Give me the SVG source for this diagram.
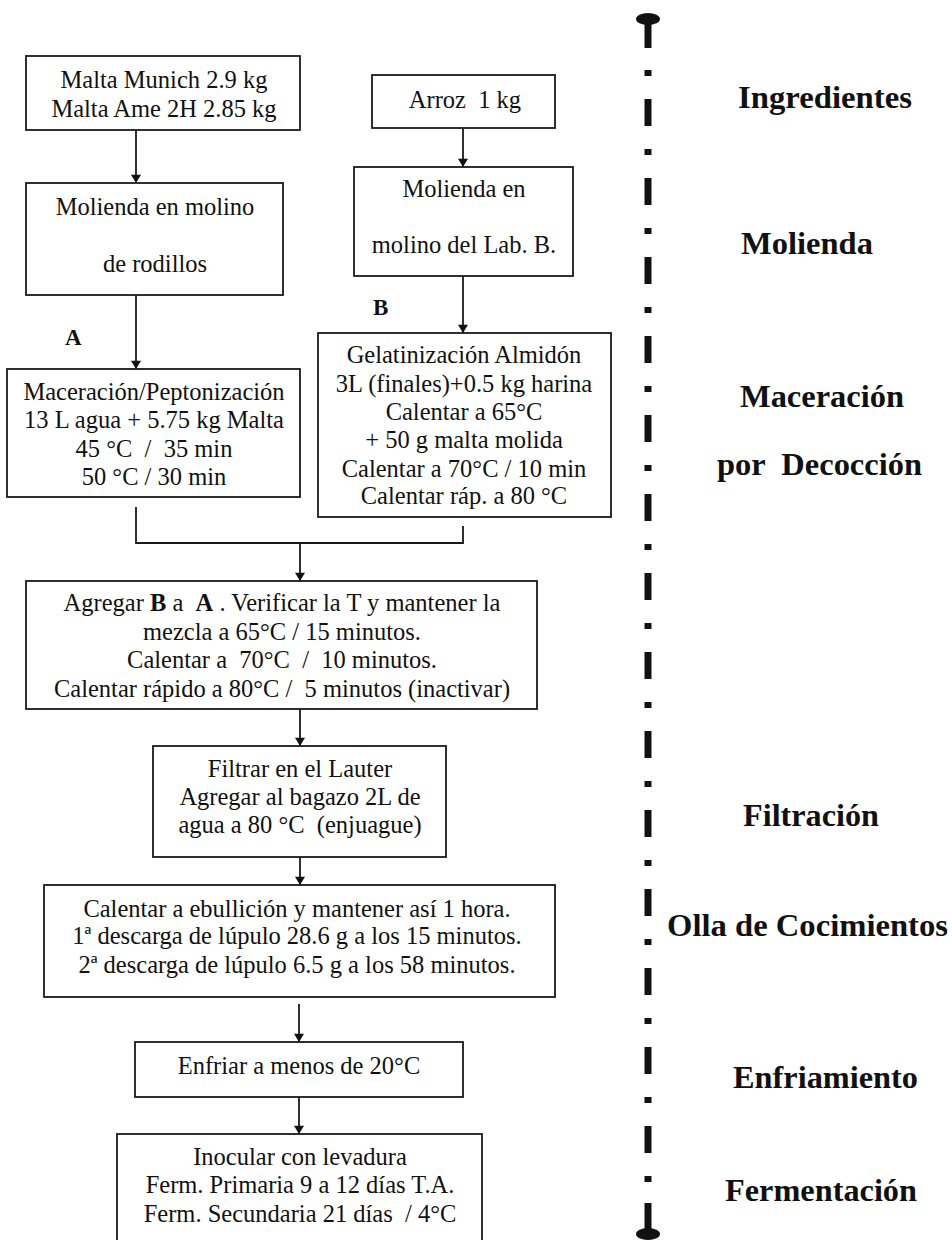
<svg xmlns="http://www.w3.org/2000/svg" width="952" height="1240" viewBox="0 0 952 1240">
<defs>
<style>
.box{fill:#fff;stroke:#1a1a1a;stroke-width:1.8}
.t{font-family:"Liberation Serif","Times New Roman",serif;font-size:24.5px;fill:#111;text-anchor:middle;white-space:pre}
.lbl{font-family:"Liberation Serif","Times New Roman",serif;font-size:31px;font-weight:bold;fill:#111;white-space:pre}
.ab{font-family:"Liberation Serif","Times New Roman",serif;font-size:23px;font-weight:bold;fill:#111}
.c{fill:none;stroke:#1a1a1a;stroke-width:1.8}
</style>
<marker id="ah" viewBox="0 0 10 12" refX="10" refY="6" markerWidth="12" markerHeight="10" markerUnits="userSpaceOnUse" orient="auto">
<path d="M0,0 L10,6 L0,12 Z" fill="#111"/>
</marker>
</defs>
<rect width="952" height="1240" fill="#fff"/>
<g id="connectors">
<line class="c" x1="136" y1="130" x2="136" y2="183" marker-end="url(#ah)"/>
<line class="c" x1="463" y1="128" x2="463" y2="167" marker-end="url(#ah)"/>
<line class="c" x1="136" y1="295" x2="136" y2="369" marker-end="url(#ah)"/>
<line class="c" x1="463" y1="276" x2="463" y2="333" marker-end="url(#ah)"/>
<polyline class="c" points="136,507 136,543 463,543 463,526"/>
<line class="c" x1="300" y1="543" x2="300" y2="581" marker-end="url(#ah)"/>
<line class="c" x1="300" y1="709" x2="300" y2="746" marker-end="url(#ah)"/>
<line class="c" x1="300" y1="857" x2="300" y2="885" marker-end="url(#ah)"/>
<line class="c" x1="299" y1="1004" x2="299" y2="1042" marker-end="url(#ah)"/>
<line class="c" x1="299" y1="1097" x2="299" y2="1134" marker-end="url(#ah)"/>
</g>
<g id="n1"><rect class="box" x="26" y="56" width="274" height="74"/><text class="t" x="164" y="88">Malta Munich 2.9 kg</text><text class="t" x="164" y="117">Malta Ame 2H 2.85 kg</text></g>
<g id="n2"><rect class="box" x="372" y="75" width="183" height="53"/><text class="t" x="465" y="108">Arroz  1 kg</text></g>
<g id="n3"><rect class="box" x="26" y="183" width="257" height="112"/><text class="t" x="155" y="215">Molienda en molino</text><text class="t" x="155" y="272">de rodillos</text></g>
<g id="n4"><rect class="box" x="354" y="167" width="219" height="109"/><text class="t" x="464" y="197">Molienda en</text><text class="t" x="464" y="253">molino del Lab. B.</text></g>
<g id="labelA"><text class="ab" x="65" y="345">A</text></g>
<g id="labelB"><text class="ab" x="373" y="315">B</text></g>
<g id="n5"><rect class="box" x="7" y="369" width="293" height="128"/><text class="t" x="154" y="400">Maceración/Peptonización</text><text class="t" x="154" y="428">13 L agua + 5.75 kg Malta</text><text class="t" x="154" y="457">45 °C  /  35 min</text><text class="t" x="154" y="485">50 °C / 30 min</text></g>
<g id="n6"><rect class="box" x="318" y="333" width="293" height="184"/><text class="t" x="464" y="363">Gelatinización Almidón</text><text class="t" x="464" y="392">3L (finales)+0.5 kg harina</text><text class="t" x="464" y="420">Calentar a 65°C</text><text class="t" x="464" y="448">+ 50 g malta molida</text><text class="t" x="464" y="477">Calentar a 70°C / 10 min</text><text class="t" x="464" y="504">Calentar ráp. a 80 °C</text></g>
<g id="n7"><rect class="box" x="26" y="581" width="511" height="128"/><text class="t" x="282" y="611">Agregar <tspan font-weight="bold">B</tspan> a  <tspan font-weight="bold">A</tspan> . Verificar la T y mantener la</text><text class="t" x="282" y="640">mezcla a 65°C / 15 minutos.</text><text class="t" x="282" y="668">Calentar a  70°C  /  10 minutos.</text><text class="t" x="282" y="697">Calentar rápido a 80°C /  5 minutos (inactivar)</text></g>
<g id="n8"><rect class="box" x="153" y="746" width="293" height="111"/><text class="t" x="300" y="777">Filtrar en el Lauter</text><text class="t" x="300" y="805">Agregar al bagazo 2L de</text><text class="t" x="300" y="833">agua a 80 °C  (enjuague)</text></g>
<g id="n9"><rect class="box" x="44" y="885" width="511" height="112"/><text class="t" x="297" y="917">Calentar a ebullición y mantener así 1 hora.</text><text class="t" x="297" y="944">1ª descarga de lúpulo 28.6 g a los 15 minutos.</text><text class="t" x="297" y="973">2ª descarga de lúpulo 6.5 g a los 58 minutos.</text></g>
<g id="n10"><rect class="box" x="135" y="1042" width="328" height="55"/><text class="t" x="299" y="1074">Enfriar a menos de 20°C</text></g>
<g id="n11"><rect class="box" x="117" y="1134" width="365" height="120"/><text class="t" x="300" y="1165">Inocular con levadura</text><text class="t" x="300" y="1193">Ferm. Primaria 9 a 12 días T.A.</text><text class="t" x="300" y="1222">Ferm. Secundaria 21 días  / 4°C</text></g>
<g id="timeline">
<ellipse cx="648" cy="19" rx="12" ry="6" fill="#111"/>
<rect x="644.5" y="19" width="7" height="29" fill="#111"/>
<line x1="648" y1="47" x2="648" y2="1203" stroke="#111" stroke-width="7" stroke-dasharray="0 23 6 23 27 0"/>
<rect x="644.5" y="1203" width="7" height="30" fill="#111"/>
<ellipse cx="648" cy="1234" rx="12" ry="6" fill="#111"/>
</g>
<g id="stages">
<text class="lbl" x="738" y="108" textLength="174" lengthAdjust="spacingAndGlyphs">Ingredientes</text>
<text class="lbl" x="741" y="254" textLength="132" lengthAdjust="spacingAndGlyphs">Molienda</text>
<text class="lbl" x="740" y="407" textLength="164" lengthAdjust="spacingAndGlyphs">Maceración</text>
<text class="lbl" x="717" y="475" textLength="205" lengthAdjust="spacingAndGlyphs">por  Decocción</text>
<text class="lbl" x="743" y="826" textLength="136" lengthAdjust="spacingAndGlyphs">Filtración</text>
<text class="lbl" x="667" y="936" textLength="281" lengthAdjust="spacingAndGlyphs">Olla de Cocimientos</text>
<text class="lbl" x="733" y="1088" textLength="185" lengthAdjust="spacingAndGlyphs">Enfriamiento</text>
<text class="lbl" x="725" y="1201" textLength="192" lengthAdjust="spacingAndGlyphs">Fermentación</text>
</g>
</svg>
